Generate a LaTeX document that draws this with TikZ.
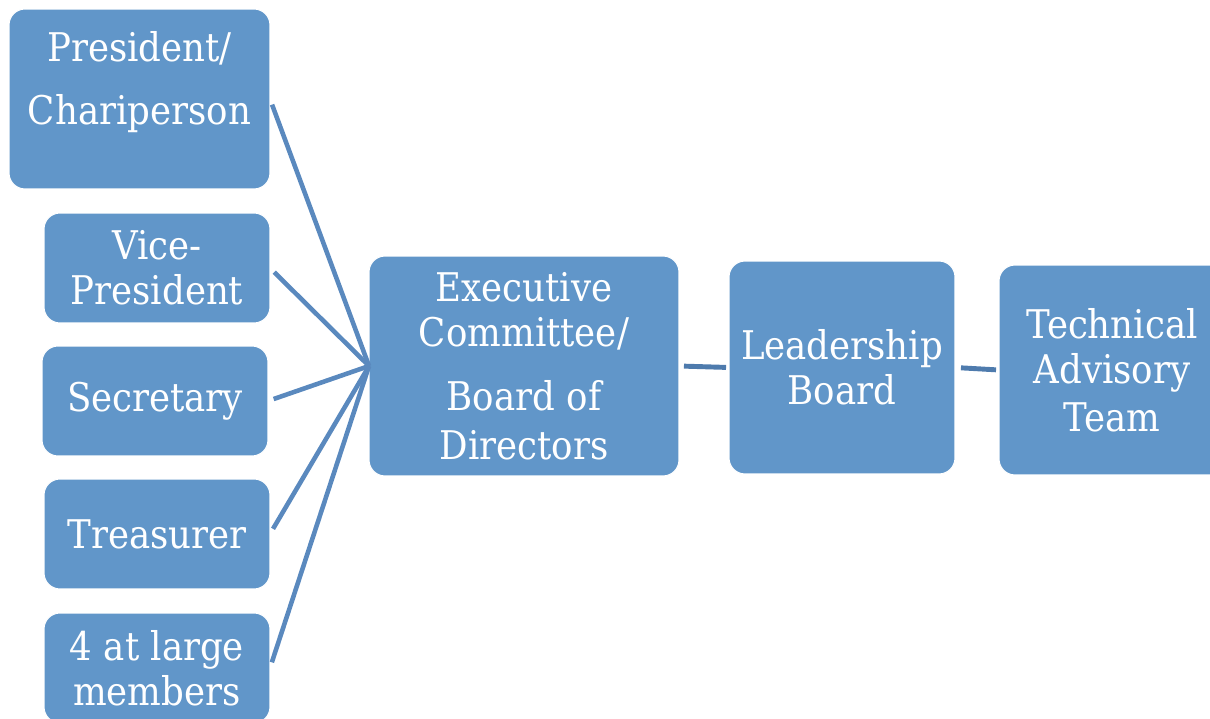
\documentclass[tikz,border=0pt]{standalone}
\usepackage{fontspec}
\setmainfont{DejaVu Serif Condensed}
\definecolor{box}{HTML}{6196C9}
\definecolor{link}{HTML}{5A89BE}
\definecolor{linkdark}{HTML}{4E7BAD}
\tikzset{
  unit/.style={draw=white, line width=0.6pt, fill=box, rounded corners=0.32cm,
    text=white, align=center, inner sep=0pt, outer sep=0pt,
    font=\fontsize{22.5}{25.8}\selectfont},
  spoke/.style={draw=link, line width=2.6pt, shorten <=0.12cm},
  chain/.style={draw=linkdark, line width=2.8pt}
}
\begin{document}
\begin{tikzpicture}[x=0.02cm,y=-0.02cm]
        \useasboundingbox (0,0) rectangle (1210,719);
        \path
        (139.5,99) node[unit, minimum width=5.22cm, minimum height=3.6cm, text depth=24pt](pres) {President/\\[10pt]Chariperson}
        (157,268) node[unit, minimum width=4.52cm, minimum height=2.2cm](vice) {Vice-\\President}
        (155,401) node[unit, minimum width=4.52cm, minimum height=2.2cm](sec) {Secretary}
        (157,534) node[unit, minimum width=4.52cm, minimum height=2.2cm](treas) {Treasurer}
        (157,668) node[unit, minimum width=4.52cm, minimum height=2.2cm](large) {4 at large\\members}
        ;

        \path
        (524,366) node[unit, minimum width=6.2cm, minimum height=4.4cm](exec) {Executive\\Committee/\\[10.8pt]Board of\\[1.7pt]Directors}
        (842,367.5) node[unit, minimum width=4.52cm, minimum height=4.26cm](lead) {Leadership\\Board}
        (1112,370) node[unit, minimum width=4.52cm, minimum height=4.2cm](tech) {Technical\\Advisory\\[1.5pt]Team}
        ;

        \draw[spoke] (pres.east) -- (exec.west);
        \draw[spoke] (vice.east) -- (exec.west);
        \draw[spoke] (sec.east) -- (exec.west);
        \draw[spoke] (treas.east) -- (exec.west);
        \draw[spoke] (large.east) -- (exec.west);

        \draw[chain, shorten <=0.1cm, shorten >=0.06cm] (exec.east) -- (lead.west);
        \draw[chain, shorten <=0.12cm, shorten >=0.06cm] (lead.east) -- (tech.west);
      \end{tikzpicture}
\end{document}
